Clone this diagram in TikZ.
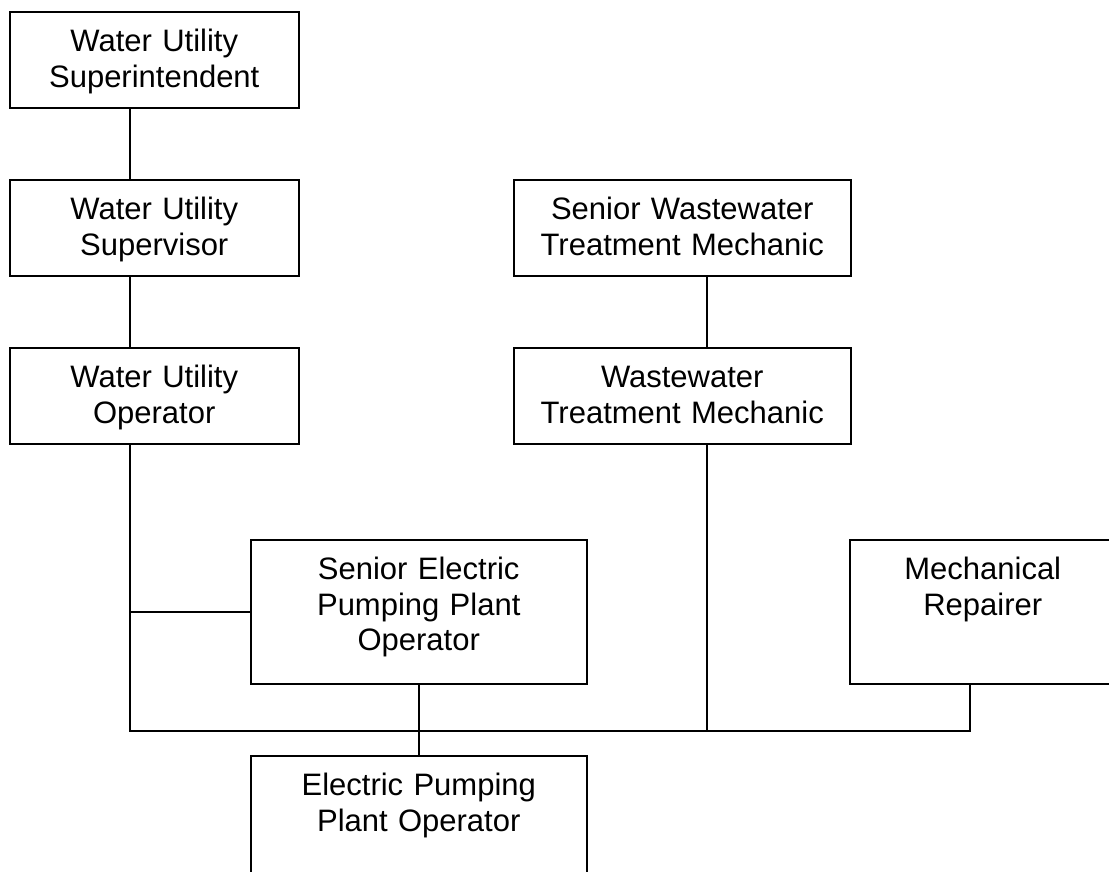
\documentclass[tikz,border=0pt]{standalone}
\usepackage{fontspec}
\setmainfont{Liberation Sans}
\usetikzlibrary{positioning}

\begin{document}
\begin{tikzpicture}[x=1pt, y=-1pt, line width=1.5pt,
    box/.style={draw, anchor=north west, inner xsep=0pt, inner ysep=0pt, align=center,
        font=\fontsize{31}{35.5}\selectfont, text height=40pt},
    short/.style={box, text depth=56pt},
    tall/.style={box, text depth=104pt}]

    \clip (0,0) rectangle (1109,871);

    % Boxes
    \node[short, text width=289pt] (superint) at (9,11) {Water Utility\\Superintendent};
    \node[short, text width=289pt] (supervisor) at (9,179) {Water Utility\\Supervisor};
    \node[short, text width=289pt] (operator) at (9,347) {Water Utility\\Operator};
    \node[short, text width=337pt] (srmech) at (513,179) {Senior Wastewater\\Treatment Mechanic};
    \node[short, text width=337pt] (mech) at (513,347) {Wastewater\\Treatment Mechanic};
    \node[tall, text width=336pt] (srpump) at (250,539) {Senior Electric\\Pumping Plant\\Operator};
    \node[tall, text width=266pt] (repairer) at (849,539) {Mechanical\\Repairer};
    \node[tall, text width=336pt] (pump) at (250,755) {Electric Pumping\\Plant Operator};

    % Line positions
    \coordinate (leftx) at (130,0);
    \coordinate (midx) at (707,0);
    \coordinate (rightx) at (970,0);
    \coordinate (bus) at (0,731);

    % Lines
    \draw (superint.south -| leftx) -- (supervisor.north -| leftx);
    \draw (supervisor.south -| leftx) -- (operator.north -| leftx);
    \draw (operator.south -| leftx) -- (leftx |- bus) -- (rightx |- bus) -- (repairer.south -| rightx);
    \draw (leftx |- srpump.west) -- (srpump.west);
    \draw (srpump.south) -- (pump.north);
    \draw (srmech.south -| midx) -- (mech.north -| midx);
    \draw (mech.south -| midx) -- (midx |- bus);
\end{tikzpicture}
\end{document}
